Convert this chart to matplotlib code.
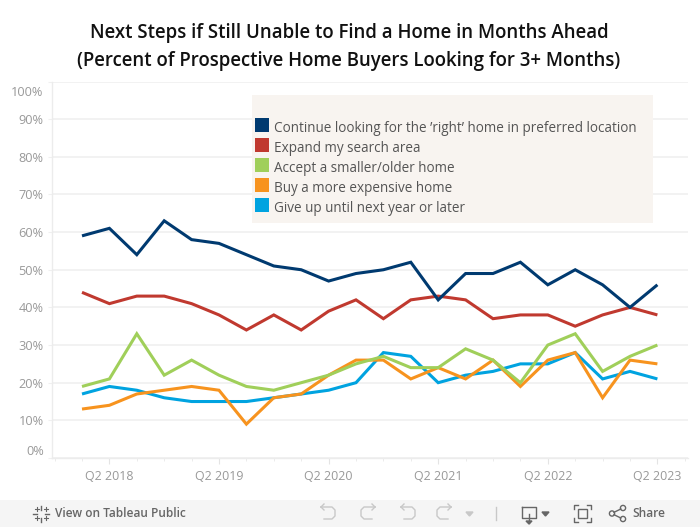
import matplotlib
matplotlib.use("Agg")
import matplotlib.pyplot as plt
from matplotlib.patches import Rectangle, Circle
from matplotlib.transforms import ScaledTranslation

quarters = ["Q1 2018","Q2 2018","Q3 2018","Q4 2018","Q1 2019","Q2 2019","Q3 2019","Q4 2019",
            "Q1 2020","Q2 2020","Q3 2020","Q4 2020","Q1 2021","Q2 2021","Q3 2021","Q4 2021",
            "Q1 2022","Q2 2022","Q3 2022","Q4 2022","Q1 2023","Q2 2023"]
continue_looking = [59,61,54,63,58,57,54,51,50,47,49,50,52,42,49,49,52,46,50,46,40,46]
expand_area = [44,41,43,43,41,38,34,38,34,39,42,37,42,43,42,37,38,38,35,38,40,38]
accept_smaller = [19,21,33,22,26,22,19,18,20,22,25,27,24,24,29,26,20,30,33,23,27,30]
buy_expensive = [13,14,17,18,19,18,9,16,17,22,26,26,21,24,21,26,19,26,28,16,26,25]
give_up = [17,19,18,16,15,15,15,16,17,18,20,28,27,20,22,23,25,25,28,21,23,21]
legend_labels = ["Continue looking for the ’right’ home in preferred location",
                 "Expand my search area","Accept a smaller/older home",
                 "Buy a more expensive home","Give up until next year or later"]
colors = ["#003a70","#c0392f","#a0cf5a","#f7931e","#00a3e0"]
series = [continue_looking, expand_area, accept_smaller, buy_expensive, give_up]
ytick_values = [0,10,20,30,40,50,60,70,80,90,100]

plt.rcParams['font.family'] = ['Open Sans','DejaVu Sans']
W, H = 700, 527
fig = plt.figure(figsize=(W/100, H/100), dpi=100, facecolor="white")

# main plot area: pixel box x 52..688, y 81.5..458
L, R, T, B = 52, 688, 81.5, 458
ax = fig.add_axes([L/W, 1-B/H, (R-L)/W, (B-T)/H])
x = list(range(len(quarters)))
px_per_q = 27.4
x0_px = 82
for s in ["top","right"]:
    ax.spines[s].set_visible(False)
for s in ["left","bottom"]:
    ax.spines[s].set_color("#ececec")
    ax.spines[s].set_linewidth(1)
ax.set_axisbelow(True)
ax.grid(axis="y", color="#f0f0f0", linewidth=1.2)
ax.grid(axis="x", visible=False)
ax.set_yticks(ytick_values)
ax.set_yticklabels([f"{v}%" for v in ytick_values], color="#999999", fontsize=9.2)
ax.tick_params(axis="y", length=3, color="#f0f0f0", pad=3)
for lab, v in zip(ax.get_yticklabels(), ytick_values):
    if v == 0:
        lab.set_transform(lab.get_transform() + ScaledTranslation(0, 8/100, fig.dpi_scale_trans))
    if v == 100:
        lab.set_transform(lab.get_transform() + ScaledTranslation(0, -9/100, fig.dpi_scale_trans))
major = [i for i, q in enumerate(quarters) if q.startswith("Q2")]
ax.set_xticks(major)
ax.set_xticklabels([quarters[i] for i in major], color="#999999", fontsize=8.9)
ax.tick_params(axis="x", length=4, color="#e4e4e4", pad=5)
ax.set_xticks([i for i in range(-1, 23) if i not in major], minor=True)
ax.tick_params(axis="x", which="minor", length=2, color="#e8e8e8")

for idx in [4,3,2,1,0]:
    ax.plot(x, series[idx], color=colors[idx], linewidth=2.2, solid_joinstyle="miter", solid_capstyle="butt", zorder=3+(4-idx))

ax.set_xlim((L-x0_px)/px_per_q, (R-x0_px)/px_per_q)
ax.set_ylim(0, 100)

# overlay in pixel coordinates for legend, title, footer
ov = fig.add_axes([0,0,1,1], zorder=5)
ov.set_xlim(0,W); ov.set_ylim(H,0); ov.axis("off"); ov.patch.set_alpha(0)
ov.add_patch(Rectangle((252,95),401,128,facecolor="#f8f4f0",edgecolor="none"))
for i,(c,t) in enumerate(zip(colors,legend_labels)):
    ov.add_patch(Rectangle((255,118+20*i),14,14,facecolor=c,edgecolor="none"))
    ov.text(274,128+20*i,t,color="#555555",fontsize=9.75,va="center",ha="left")
ov.text(349,33,"Next Steps if Still Unable to Find a Home in Months Ahead",fontsize=13.4,fontweight=600,
        color="#111111",ha="center",va="center")
ov.text(349,61,"(Percent of Prospective Home Buyers Looking for 3+ Months)",fontsize=13.4,fontweight=600,
        color="#111111",ha="center",va="center")

# footer bar
ov.add_patch(Rectangle((0,500),700,27,facecolor="#f5f5f5",edgecolor="none"))
ov.text(55,513.5,"View on Tableau Public",fontsize=8.6,fontweight=600,color="#666666",va="center")
ov.text(632,513.5,"Share",fontsize=8.6,fontweight=600,color="#666666",va="center")
g = "#666666"; lg = "#c8c8c8"
# tableau mark
cx, cy = 41, 513.5
for dx,dy,r in [(0,-1,8),(0,1,8),(1,0,8),(-1,0,8)]:
    ov.plot([cx+dx*(r-4),cx+dx*r],[cy+dy*(r-4),cy+dy*r],color=g,lw=1)
for dx,dy in [(-4.5,-4.5),(4.5,-4.5),(-4.5,4.5),(4.5,4.5)]:
    ov.plot([cx+dx-2,cx+dx+2],[cy+dy,cy+dy],color=g,lw=.8)
    ov.plot([cx+dx,cx+dx],[cy+dy-2,cy+dy+2],color=g,lw=.8)
# undo / redo / revert / refresh glyphs
def arrow(xa, flip, col):
    s = -1 if flip else 1
    ov.plot([xa,xa+s*11,xa+s*14,xa+s*14,xa+s*11,xa+s*3],[507,507,510,516,519,519],color=col,lw=1)
    ov.plot([xa,xa+s*3],[507,504],color=col,lw=1)
    ov.plot([xa,xa+s*3],[507,510],color=col,lw=1)
arrow(321,False,lg); arrow(375,True,lg); arrow(401,False,lg); arrow(451,True,lg)
ov.fill([466,473,469.5],[512,512,516],color=lg)
ov.plot([495.5,495.5],[507,520],color=lg,lw=1)
# download
ov.plot([522,522,536,536,522],[507,518,518,507,507],color=g,lw=1)
ov.plot([529,529],[514,523],color=g,lw=1)
ov.fill([526,532,529],[521,521,524],color=g)
ov.fill([542,549,545.5],[512,512,516],color=g)
# fullscreen
ov.add_patch(Rectangle((578,509),9,9,fill=False,edgecolor=g,lw=1))
for (a,b),(da,db) in zip([(574,505),(591,505),(574,522),(591,522)],[(1,1),(-1,1),(1,-1),(-1,-1)]):
    ov.plot([a+da*4,a,a],[b,b,b+db*4],color=g,lw=1)
# share
for cx,cy in [(612,513.5),(623,508),(623,519)]:
    ov.add_patch(Circle((cx,cy),2.6,fill=False,edgecolor=g,lw=1))
ov.plot([614,620.8],[512.3,509],color=g,lw=1)
ov.plot([614,620.8],[514.7,518],color=g,lw=1)

fig.savefig("out.png", dpi=100)
